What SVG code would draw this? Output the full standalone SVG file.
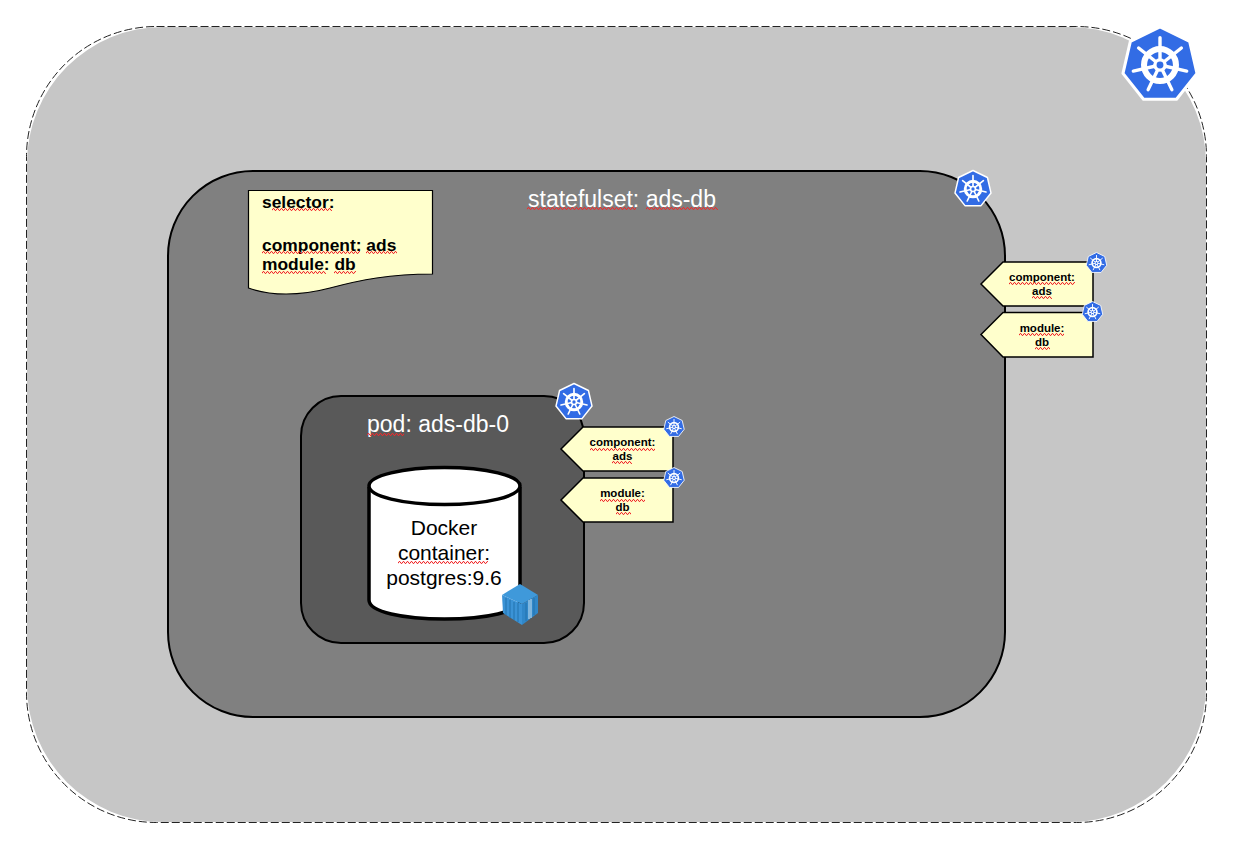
<svg xmlns="http://www.w3.org/2000/svg" width="1233" height="856" viewBox="0 0 1233 856">
<style>
text{font-family:"Liberation Sans",Arial,sans-serif;text-anchor:middle}
.w{fill:#fff;font-size:23px}
.tag{fill:#ffffcc;stroke:#000;stroke-width:1.5}
.tt{fill:#000;font-size:11.500px;font-weight:bold}
.sel{fill:#000;font-size:17.400px;font-weight:bold;text-anchor:start}
.doc{fill:#000;font-size:21px}
.sq{fill:url(#wave)}
</style>
<defs>
<pattern id="wave" patternUnits="userSpaceOnUse" width="4" height="3">
<path d="M0 2.4L1 .6L2 .6L3 2.4L4 2.4" fill="none" stroke="#f0282a" stroke-width="1"/>
</pattern>
<g id="k8s">
<polygon points="0,-50 39,-31 48.7,11 21.7,45 -21.7,45 -48.7,11 -39,-31" fill="#326ce5" stroke="#fff" stroke-width="4" stroke-linejoin="round"/>
<circle r="21" fill="none" stroke="#fff" stroke-width="8"/>
<g stroke="#fff" stroke-width="4.500" stroke-linecap="round">
<line x2="0" y2="-36"/><line x2="28.100" y2="-22.400"/><line x2="35.100" y2="8"/><line x2="15.600" y2="32.400"/><line x2="-15.600" y2="32.400"/><line x2="-35.100" y2="8"/><line x2="-28.100" y2="-22.400"/>
</g>
<circle r="9" fill="#fff"/>
<circle r="4.500" fill="#326ce5"/>
</g>
</defs>
<rect width="1233" height="856" fill="#fff"/>
<g id="cluster">
<rect x="27" y="27" width="1179" height="795" rx="136" ry="136" fill="#c6c6c6"/>
<rect x="26.500" y="26.500" width="1180" height="796" rx="130" ry="130" fill="none" stroke="#222" stroke-width="1" stroke-dasharray="8 3"/>
<use href="#k8s" transform="translate(1160,65) scale(.76)"/>
</g>
<g id="statefulset">
<rect x="168" y="171" width="837" height="546" rx="85" ry="85" fill="#808080" stroke="#000" stroke-width="2"/>
<text class="w" x="622" y="207">statefulset: ads-db</text>
<rect class="sq" transform="translate(527,207)" width="109" height="3"/>
<rect class="sq" transform="translate(646,207)" width="72" height="3"/>
<use href="#k8s" transform="translate(973,189) scale(.37)"/>
</g>
<g id="selector-note">
<path d="M248.500 190.500H432.500V274C390 274 360 280 330 288C300 296 270 296 248.500 288Z" fill="#ffffcc" stroke="#000" stroke-width="1.200"/>
<text class="sel" x="262" y="208">selector:</text>
<text class="sel" x="262" y="251">component: ads</text>
<text class="sel" x="262" y="270">module: db</text>
<rect class="sq" transform="translate(272,208)" width="60" height="3"/>
<rect class="sq" transform="translate(262,251)" width="98" height="3"/>
<rect class="sq" transform="translate(366,251)" width="31" height="3"/>
<rect class="sq" transform="translate(262,271)" width="64" height="3"/>
<rect class="sq" transform="translate(334,271)" width="22" height="3"/>
</g>
<g id="pod">
<rect x="301" y="396" width="283" height="247" rx="40" ry="40" fill="#595959" stroke="#000" stroke-width="2"/>
<text class="w" x="438" y="432">pod: ads-db-0</text>
<rect class="sq" transform="translate(367,433)" width="37" height="3"/>
<use href="#k8s" transform="translate(574,402) scale(.37)"/>
</g>
<g id="container">
<path d="M369 487V600C369 612 403 619 444.500 619C486 619 520 612 520 600V487" fill="#fff" stroke="#000" stroke-width="3.500"/>
<ellipse cx="444.500" cy="486" rx="75.500" ry="18.500" fill="#fff" stroke="#000" stroke-width="3.500"/>
<text class="doc" x="444" y="535">Docker</text>
<text class="doc" x="444" y="560">container:</text>
<text class="doc" x="444" y="585">postgres:9.6</text>
<rect class="sq" transform="translate(398,561)" width="90" height="3"/>
<g id="docker-icon">
<polygon points="520,584 538,595 522,604 502,595" fill="#3f99da"/>
<polygon points="502,595 522,604 522,625 503,613" fill="#3b93d6"/>
<polygon points="522,604 538,595 538,613 522,625" fill="#3087c9"/>
<g stroke="#2272ad" stroke-width="1" fill="none">
<path d="M506 598V615M510 600V618M514 602V620M518 603V622"/>
<path d="M526 603V621M534 598V615"/>
</g>
<path d="M529 600V619M531 599V618" stroke="#cfe6f5" stroke-width="1" fill="none"/>
</g>
</g>
<g id="pod-label-component">
<polygon class="tag" points="561,449 583,427 673,427 673,471 583,471"/>
<text class="tt" x="622.500" y="446">component:</text>
<text class="tt" x="622.500" y="460">ads</text>
<rect class="sq" transform="translate(590,448)" width="65" height="3"/>
<rect class="sq" transform="translate(612,461)" width="20" height="3"/>
<use href="#k8s" transform="translate(674,427) scale(.21)"/>
</g>
<g id="pod-label-module">
<polygon class="tag" points="561,500 583,478 673,478 673,522 583,522"/>
<text class="tt" x="622.500" y="497">module:</text>
<text class="tt" x="622.500" y="511">db</text>
<rect class="sq" transform="translate(600,499)" width="45" height="3"/>
<rect class="sq" transform="translate(616,512)" width="15" height="3"/>
<use href="#k8s" transform="translate(674,478) scale(.21)"/>
</g>
<g id="set-label-component">
<polygon class="tag" points="981,284 1003,262 1093,262 1093,306 1003,306"/>
<text class="tt" x="1042" y="281">component:</text>
<text class="tt" x="1042" y="295">ads</text>
<rect class="sq" transform="translate(1009,282)" width="66" height="3"/>
<rect class="sq" transform="translate(1032,296)" width="20" height="3"/>
<use href="#k8s" transform="translate(1096.500,263) scale(.21)"/>
</g>
<g id="set-label-module">
<polygon class="tag" points="981,334.500 1003,312.500 1093,312.500 1093,357 1003,357"/>
<text class="tt" x="1042" y="332">module:</text>
<text class="tt" x="1042" y="346">db</text>
<rect class="sq" transform="translate(1019,333)" width="45" height="3"/>
<rect class="sq" transform="translate(1035,347)" width="15" height="3"/>
<use href="#k8s" transform="translate(1092.500,312) scale(.21)"/>
</g>
</svg>
